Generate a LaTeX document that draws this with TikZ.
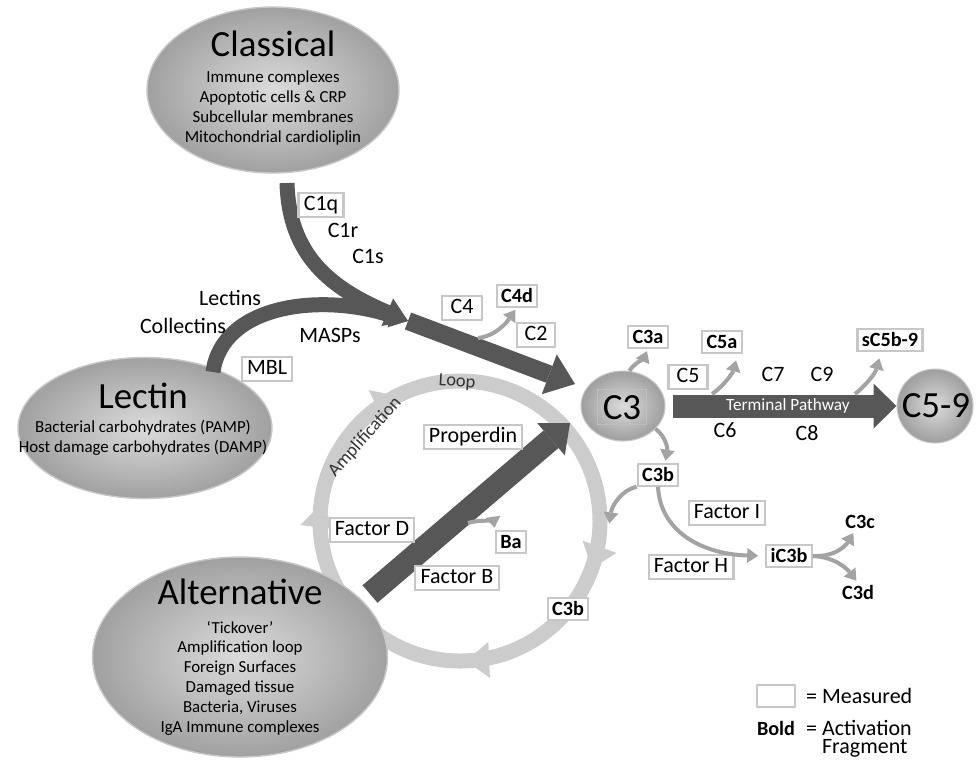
\documentclass[tikz,border=0pt]{standalone}
\usepackage{fontspec}
\setmainfont{Carlito}
\usetikzlibrary{arrows.meta, positioning, shapes.geometric, decorations.markings}

\newcommand{\pwtitle}[1]{{\fontsize{21}{24}\selectfont #1}}

\begin{document}
\begin{tikzpicture}[x=0.02cm, y=-0.02cm,
        pathway/.style={ellipse, draw=black!22, line width=0.8pt, inner color=black!14, outer color=black!37},
        pwtext/.style={align=center, inner sep=0pt, font=\fontsize{9.6}{11.3}\selectfont},
        hub/.style={ellipse, draw=black!22, line width=0.6pt, inner color=black!14, outer color=black!38},
        hubtext/.style={inner sep=0pt, font=\fontsize{21}{24}\selectfont},
        meas/.style={draw=black!22, line width=1.2pt, fill=white, inner xsep=3pt, inner ysep=1.5pt,
            text height=8.6pt, text depth=2.4pt, font=\fontsize{12.5}{14}\selectfont},
        frag/.style={meas, inner xsep=2.5pt, inner ysep=1.8pt, text height=8pt, text depth=0.5pt,
            font=\fontsize{11.5}{13}\selectfont\bfseries},
        plain/.style={inner sep=1pt, font=\fontsize{12.5}{14}\selectfont},
        fragtxt/.style={inner sep=1pt, font=\fontsize{11.5}{13}\selectfont\bfseries},
        keytxt/.style={inner sep=1pt, font=\fontsize{12.5}{13}\selectfont},
        ringtxt/.style={inner sep=0pt, text=black!80, font=\fontsize{10.5}{12}\selectfont},
        loopring/.style={draw=black!20, line width=0.3cm},
        flow/.style={draw=black!66},
        fraghead/.tip={Triangle[length=0.22cm,width=0.3cm,line width=0pt]},
        ringhead/.tip={Triangle[length=0.46cm,width=0.72cm,line width=0pt]},
        split/.style={draw=black!36, line width=0.08cm, shorten >=1.5pt, -{fraghead}}]

    \useasboundingbox (0,0) rectangle (976,765);

    \coordinate (loopc) at (460,521);
    \draw[loopring, postaction={decorate, decoration={markings,
            mark=at position 0.055 with {\arrow{ringhead}},
            mark=at position 0.243 with {\arrow{ringhead}},
            mark=at position 0.519 with {\arrow{ringhead}},
            mark=at position 0.676 with {\arrow{ringhead}}}}]
        (loopc) circle[radius=140];
    \node[ringtxt, rotate=48] (amplab) at (365,437) {Amplification};
    \node[ringtxt, rotate=-4] (looplab) at (457,382) {Loop};

    \node[pathway, minimum width=5.04cm, minimum height=3.32cm] (classical) at (273,90) {};
    \node[pwtext] (classicaltxt) at (273,88) {\pwtitle{Classical}\\[3.5pt] Immune complexes\\ Apoptotic cells \& CRP\\ Subcellular membranes\\ Mitochondrial cardioliplin};
    \node[pathway, minimum width=5.08cm, minimum height=2.82cm] (lectin) at (145,428) {};
    \node[pwtext] (lectintxt) at (143,419) {\pwtitle{Lectin}\\[2.7pt] Bacterial carbohydrates (PAMP)\\ Host damage carbohydrates (DAMP)};
    \node[pathway, minimum width=5.9cm, minimum height=4cm] (alternative) at (240,657) {};
    \node[pwtext] (alternativetxt) at (240,657) {\pwtitle{Alternative}\\[5pt] `Tickover'\\ Amplification loop\\ Foreign Surfaces\\ Damaged tissue\\ Bacteria, Viruses\\ IgA Immune complexes};

    \node[hub, minimum width=1.68cm, minimum height=1.4cm] (c3) at (623,406) {};
    \node[meas, fill=none, draw=black!25, line width=1pt, inner ysep=2.5pt, text height=14.5pt, text depth=0.5pt,
        font=\fontsize{21}{24}\selectfont] (c3lab) at (622,407) {C3};
    \node[hub, minimum width=1.52cm, minimum height=1.48cm] (c59) at (935,406) {};
    \node[hubtext] (c59lab) at (936,406) {C5-9};

    \coordinate (cstart) at (287,183);
    \coordinate (lstart) at (213,372);
    \coordinate (join) at (408,321);
    \coordinate (c3in) at (575,384);
    \coordinate (astart) at (370,594);
    \coordinate (c3alt) at (570,423);

    \draw[flow, line width=0.3cm, -{Triangle[length=0.45cm,width=0.6cm,line width=0pt]}]
        (cstart) .. controls (289,255) and (330,288) .. (join);
    \draw[flow, line width=0.3cm, -{Triangle[length=0.35cm,width=0.5cm,line width=0pt]}]
        (lstart) .. controls (222,305) and (320,292) .. (join);
    \draw[flow, line width=0.36cm, -{Triangle[length=0.55cm,width=0.85cm,line width=0pt]}]
        (join) -- (c3in);
    \draw[flow, line width=0.46cm, -{Triangle[length=0.5cm,width=0.85cm,line width=0pt]}]
        (astart) -- (c3alt);
    \draw[flow, line width=0.46cm, shorten <=0.14cm, -{Triangle[length=0.46cm,width=0.9cm,line width=0pt]}]
        (c3) -- node[pos=0.53, text=white, font=\fontsize{9.8}{11}\selectfont] (termtxt) {Terminal Pathway} (c59);

    \node[meas] (c1q) at (321,205) {C1q};
    \node[plain] (c1r) at (343,230) {C1r};
    \node[plain] (c1s) at (368,256) {C1s};
    \node[plain] (lectins) at (230,298) {Lectins};
    \node[plain] (collectins) at (183,326) {Collectins};
    \node[plain] (masps) at (330,335) {MASPs};
    \node[meas] (mbl) at (267,369) {MBL};
    \node[meas, minimum width=0.8cm] (c4) at (462,308) {C4};
    \node[frag] (c4d) at (517,296) {C4d};
    \node[meas, minimum width=0.76cm] (c2) at (536,335) {C2};
    \node[frag] (c3a) at (648,337) {C3a};
    \node[meas, minimum width=0.78cm] (c5) at (688,377) {C5};
    \node[frag] (c5a) at (722,342) {C5a};
    \node[plain] (c7) at (773,374) {C7};
    \node[plain] (c9) at (822,374) {C9};
    \node[plain] (c6) at (725,430) {C6};
    \node[plain] (c8) at (807,433) {C8};
    \node[frag] (sc5b) at (890,340) {sC5b-9};
    \node[meas] (properdin) at (473,437) {Properdin};
    \node[meas] (factord) at (372,530) {Factor D};
    \node[frag] (ba) at (511,542) {Ba};
    \node[meas] (factorb) at (457,578) {Factor B};
    \node[frag] (c3bloop) at (568,609) {C3b};
    \node[frag] (c3b) at (658,475) {C3b};
    \node[meas] (factori) at (727,513) {Factor I};
    \node[meas] (factorh) at (691,567) {Factor H};
    \node[frag] (ic3b) at (789,556) {iC3b};
    \node[fragtxt] (c3c) at (860,522) {C3c};
    \node[fragtxt] (c3d) at (858,592) {C3d};

    \coordinate (c4src) at (478,338);
    \coordinate (basrc) at (468,523);
    \coordinate (c5src) at (712,394);
    \coordinate (macsrc) at (855,394);
    \coordinate (ringin) at (609,526);

    \draw[split] (c4src) .. controls (496,336) and (507,322) .. (c4d.south);
    \draw[split] (c3.80) .. controls (636,362) and (644,358) .. (c3a.south);
    \draw[split, shorten >=4pt] (c5src) .. controls (725,385) and (733,372) .. ([xshift=9pt]c5a.south);
    \draw[split, shorten >=4pt] (macsrc) .. controls (866,385) and (875,374) .. ([xshift=-5pt]sc5b.south);
    \draw[split] (c3.-35) .. controls (669,440) and (667,452) .. ([xshift=4pt]c3b.north);
    \draw[split] (c3b.south west) .. controls (622,490) and (612,505) .. (ringin);
    \draw[split, shorten >=4pt] (c3b.south) .. controls (660,530) and (700,554) .. (ic3b.west);
    \draw[split] (ic3b.east) .. controls (836,557) and (846,545) .. ([xshift=-3pt]c3c.south);
    \draw[split] (ic3b.east) .. controls (836,557) and (848,570) .. (c3d.north);
    \draw[split] (basrc) .. controls (484,518) and (494,524) .. (ba.north west);

    \node[meas, text height=0pt, text depth=0pt, minimum width=0.76cm, minimum height=0.44cm] (keybox) at (776,696) {};
    \node[keytxt, right=0.16cm of keybox] (keymeas) {= Measured};
    \node[fragtxt] (keybold) at (776,728) {Bold};
    \node[keytxt, right=0.14cm of keybold] (keyact) {= Activation};
    \node[keytxt, anchor=base west] (keyfrag) at (820,753) {Fragment};
\end{tikzpicture}
\end{document}
